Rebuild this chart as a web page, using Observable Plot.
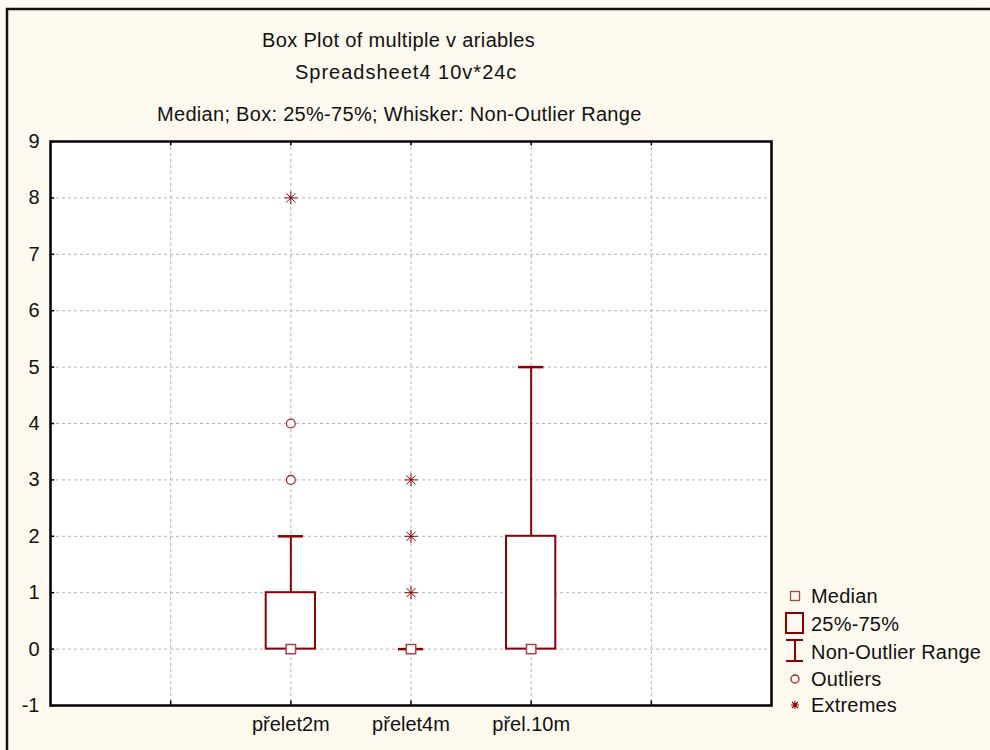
<!DOCTYPE html>
<html>
<head>
<meta charset="utf-8">
<script src="https://cdn.jsdelivr.net/npm/d3@7"></script>
<script src="https://cdn.jsdelivr.net/npm/@observablehq/plot@0.6"></script>
<style>
  html, body { margin: 0; padding: 0; }
  body { width: 990px; height: 750px; background: #fdf9ee; position: relative; overflow: hidden;
         font-family: "Liberation Sans", Arial, sans-serif; }
  #chart { position: absolute; left: 0; top: 0; }
  #overlay { position: absolute; left: 0; top: 0; pointer-events: none; }
</style>
</head>
<body>
<div id="chart"></div>
<svg id="overlay" width="990" height="750"></svg>
<script>
// ---- data ----
const categories = ["přelet2m", "přelet4m", "přel.10m"];
const medians = [0, 0, 0];
const q1 = [0, 0, 0];
const q3 = [1, 0, 2];
const whiskerMin = [0, 0, 0];
const whiskerMax = [2, 0, 5];
const outliers = [
  {cat: "přelet2m", value: 3},
  {cat: "přelet2m", value: 4}
];
const extremes = [
  {cat: "přelet2m", value: 8},
  {cat: "přelet4m", value: 1},
  {cat: "přelet4m", value: 2},
  {cat: "přelet4m", value: 3}
];
const yTicks = [-1, 0, 1, 2, 3, 4, 5, 6, 7, 8, 9];
const xGrid = [1, 2, 3, 4, 5];
const titleLines = ["Box Plot of  multiple v ariables", "Spreadsheet4 10v*24c", "Median; Box: 25%-75%; Whisker: Non-Outlier Range"];
const legendLabels = ["Median", "25%-75%", "Non-Outlier Range", "Outliers", "Extremes"];

// ---- derived table ----
const posOf = c => categories.indexOf(c) + 2;
const boxes = categories.map((c, i) => ({
  cat: c, pos: i + 2, median: medians[i], q1: q1[i], q3: q3[i], lo: whiskerMin[i], hi: whiskerMax[i]
}));

const RED = "#8b0000";
const boxHalf = 0.205, capHalf = 0.105;

const chart = Plot.plot({
  width: 990,
  height: 750,
  marginLeft: 50,
  marginRight: 219,
  marginTop: 141,
  marginBottom: 45,
  style: {background: "transparent", fontFamily: "'Liberation Sans', Arial, sans-serif", color: "#111"},
  x: {domain: [0, 6], axis: null},
  y: {domain: [-1, 9], axis: null},
  marks: [
    Plot.frame({fill: "white", stroke: null}),
    Plot.gridX(xGrid, {stroke: "#b4b4b4", strokeOpacity: 1, strokeDasharray: "3,3"}),
    Plot.gridY(yTicks.slice(1, -1), {stroke: "#b4b4b4", strokeOpacity: 1, strokeDasharray: "3,3"}),
    // whiskers
    Plot.ruleX(boxes, {x: "pos", y1: "q3", y2: "hi", stroke: RED, strokeWidth: 2}),
    Plot.ruleX(boxes, {x: "pos", y1: "q1", y2: "lo", stroke: RED, strokeWidth: 2}),
    Plot.ruleY(boxes, {y: "hi", x1: d => d.pos - capHalf, x2: d => d.pos + capHalf, stroke: RED, strokeWidth: 2.5}),
    // boxes
    Plot.rect(boxes, {x1: d => d.pos - boxHalf, x2: d => d.pos + boxHalf, y1: "q1", y2: "q3",
      fill: "white", stroke: RED, strokeWidth: 2}),
    // medians
    Plot.dot(boxes, {x: "pos", y: "median", symbol: "square", r: 5.3, fill: "white", stroke: "#a84545", strokeWidth: 1.5}),
    // outliers
    Plot.dot(outliers, {x: d => posOf(d.cat), y: "value", symbol: "circle", r: 4.4, fill: "white", stroke: "#a82828", strokeWidth: 1.3}),
    // extremes (8-ray asterisk)
    Plot.dot(extremes, {x: d => posOf(d.cat), y: "value", symbol: "plus", r: 4.2, stroke: RED, strokeWidth: 1}),
    Plot.dot(extremes, {x: d => posOf(d.cat), y: "value", symbol: "times", r: 4.2, stroke: RED, strokeWidth: 1}),
    // frame
    Plot.frame({stroke: "black", strokeWidth: 2.5}),
    // inward ticks
    Plot.ruleY(yTicks, {y: d => d, x1: 0, x2: 0.035, stroke: "black", strokeWidth: 1.5}),
    Plot.ruleX(xGrid, {x: d => d, y1: -1, y2: -0.92, stroke: "black", strokeWidth: 1.5}),
    Plot.ruleX(xGrid, {x: d => d, y1: 9, y2: 8.92, stroke: "black", strokeWidth: 1.5}),
    // axes labels
    Plot.axisY(yTicks, {tickSize: 0, tickPadding: 11, fontSize: 20, label: null, fill: "#111",
      tickFormat: d => String(d)}),
    Plot.axisX([2, 3, 4], {tickSize: 0, tickPadding: 11, fontSize: 20, label: null, fill: "#111",
      tickFormat: d => categories[d - 2]})
  ]
});
document.getElementById("chart").appendChild(chart);

// ---- overlay: outer border, titles, legend ----
const ov = d3.select("#overlay");
ov.append("path").attr("d", "M7,750 V9 H990").attr("fill", "none").attr("stroke", "#111").attr("stroke-width", 2.5);

const titleX = [262, 295, 157];
const titleY = [47, 79, 121];
const titleSpacing = [0.35, 1.0, 0.3];
titleLines.forEach((t, i) => {
  ov.append("text").attr("x", titleX[i]).attr("y", titleY[i]).attr("font-size", 20)
    .attr("letter-spacing", titleSpacing[i])
    .attr("fill", "#111").text(t);
});

const lg = ov.append("g");
const ly = [596, 624, 652, 679, 705];
const lx = 795;
// median square
lg.append("rect").attr("x", lx - 4.5).attr("y", ly[0] - 4.5).attr("width", 9).attr("height", 9)
  .attr("fill", "none").attr("stroke", "#a84545").attr("stroke-width", 1.3);
// box
lg.append("rect").attr("x", 786).attr("y", 613).attr("width", 17).attr("height", 20)
  .attr("fill", "none").attr("stroke", RED).attr("stroke-width", 2);
// whisker
lg.append("path").attr("d", `M${lx},${640} V${661} M786,${640} H803 M786,${661} H803`)
  .attr("fill", "none").attr("stroke", RED).attr("stroke-width", 2);
// outlier circle
lg.append("circle").attr("cx", lx).attr("cy", ly[3]).attr("r", 4).attr("fill", "none").attr("stroke", "#a82828").attr("stroke-width", 1.3);
// extreme
lg.append("path").attr("d", `M${lx - 4},${ly[4]} H${lx + 4} M${lx},${ly[4] - 4} V${ly[4] + 4} M${lx - 3},${ly[4] - 3} L${lx + 3},${ly[4] + 3} M${lx - 3},${ly[4] + 3} L${lx + 3},${ly[4] - 3}`)
  .attr("stroke", RED).attr("stroke-width", 1.1);
legendLabels.forEach((t, i) => {
  lg.append("text").attr("x", 811).attr("y", ly[i]).attr("dy", "0.35em").attr("font-size", 20)
    .attr("letter-spacing", 0.2)
    .attr("fill", "#111").text(t);
});
</script>
</body>
</html>
